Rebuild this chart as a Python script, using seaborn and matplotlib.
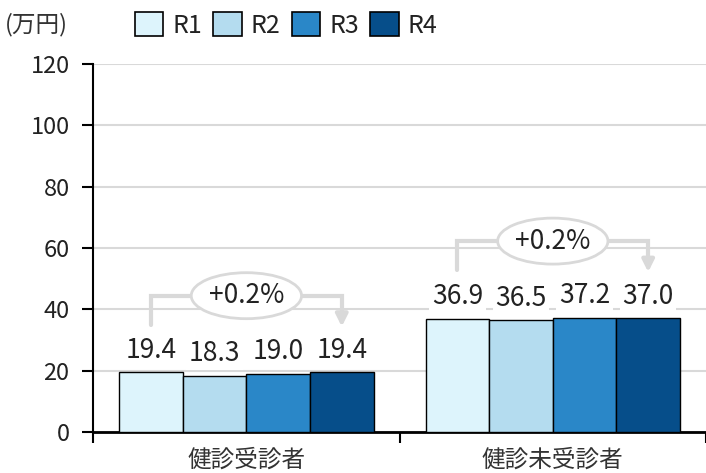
import matplotlib
matplotlib.use("Agg")
import matplotlib.pyplot as plt
from matplotlib.patches import Patch, Ellipse
import seaborn as sns
import pandas as pd

# data
categories = ["健診受診者", "健診未受診者"]
years = ["R1", "R2", "R3", "R4"]
values = {
    "健診受診者": [19.4, 18.3, 19.0, 19.4],
    "健診未受診者": [36.9, 36.5, 37.2, 37.0],
}
changes = ["+0.2%", "+0.2%"]
colors = ["#ddf4fc", "#b4dcef", "#2a87c8", "#064e8a"]
yticks = [0, 20, 40, 60, 80, 100, 120]

sns.set_style("white")
plt.rcParams["font.family"] = ["Noto Sans CJK JP", "DejaVu Sans"]

rows = [
    {"cat": c, "year": y, "val": v}
    for c in categories
    for y, v in zip(years, values[c])
]
df = pd.DataFrame(rows)

fig = plt.figure(figsize=(7.06, 4.73), dpi=100)
ax = fig.add_axes([0.132, 0.087, 0.868, 0.778])

sns.barplot(
    data=df, x="cat", y="val", hue="year", order=categories, hue_order=years,
    palette=colors, saturation=1, width=0.83, edgecolor="black", linewidth=1.0,
    legend=False, ax=ax, zorder=3,
)

ax.set_xlim(-0.5, 1.5)
ax.set_ylim(0, 120)
ax.set_yticks(yticks)
ax.grid(axis="y", color="#d9d9d9", linewidth=1.5, zorder=0)
ax.set_axisbelow(True)
for s in ["top", "right"]:
    ax.spines[s].set_visible(False)
ax.spines["left"].set_color("black")
ax.spines["left"].set_linewidth(1.5)
ax.spines["bottom"].set_color("black")
ax.spines["bottom"].set_linewidth(2)
ax.set_xlabel("")
ax.set_ylabel("")

ax.tick_params(axis="y", which="major", direction="out", length=8, width=1.5,
               color="black", pad=9, labelsize=17, labelcolor="#222222",
               left=True)
ax.set_xticks([0, 1])
ax.set_xticklabels(categories)
ax.set_xticks([-0.5, 0.5, 1.5], minor=True)
ax.tick_params(axis="x", which="major", length=0, pad=12, labelsize=17,
               labelcolor="#333333")
ax.tick_params(axis="x", which="minor", direction="out", length=8, width=1.5,
               color="black", bottom=True)

# value labels and brackets
bars_by_year = {}
for cont, y in zip(ax.containers, years):
    bars_by_year[y] = cont

for ci, c in enumerate(categories):
    vals = values[c]
    xs = []
    for yi, y in enumerate(years):
        bar = bars_by_year[y][ci]
        x = bar.get_x() + bar.get_width() / 2
        xs.append(x)
        ax.annotate(f"{vals[yi]:.1f}", (x, vals[yi]), xytext=(0, 6),
                    textcoords="offset points", ha="center", va="bottom",
                    fontsize=19, color="#222222", zorder=5,
                    bbox=dict(boxstyle="square,pad=0.1", fc="white", ec="none"))
    top = max(vals)
    yb = top + 25
    ylow = top + 15.5
    gray = "#d9d9d9"
    ax.plot([xs[0], xs[0], xs[-1], xs[-1]], [ylow, yb, yb, ylow + 3],
            color=gray, linewidth=3, zorder=4, solid_joinstyle="miter")
    ax.annotate("", xy=(xs[-1], ylow - 1.5), xytext=(xs[-1], ylow + 3.5),
                arrowprops=dict(arrowstyle="-|>,head_width=0.35,head_length=0.7",
                                color=gray, lw=3), zorder=4)
    ax.add_patch(Ellipse((ci, yb), 0.36, 15, facecolor="white", edgecolor=gray,
                         linewidth=2, zorder=5))
    ax.text(ci, yb, changes[ci], ha="center", va="center", fontsize=19,
            color="#222222", zorder=6)

handles = [Patch(facecolor=col, edgecolor="black", linewidth=1.2) for col in colors]
fig.legend(handles, years, loc="center", bbox_to_anchor=(0.405, 0.947),
           ncol=4, frameon=False, fontsize=18, handlelength=1.15,
           handleheight=1.15, handletextpad=0.35, columnspacing=0.45,
           labelcolor="#222222")

fig.text(0.007, 0.947, "(万円)", ha="left", va="center", fontsize=17,
         color="#333333")

fig.savefig("out.png", dpi=100)
